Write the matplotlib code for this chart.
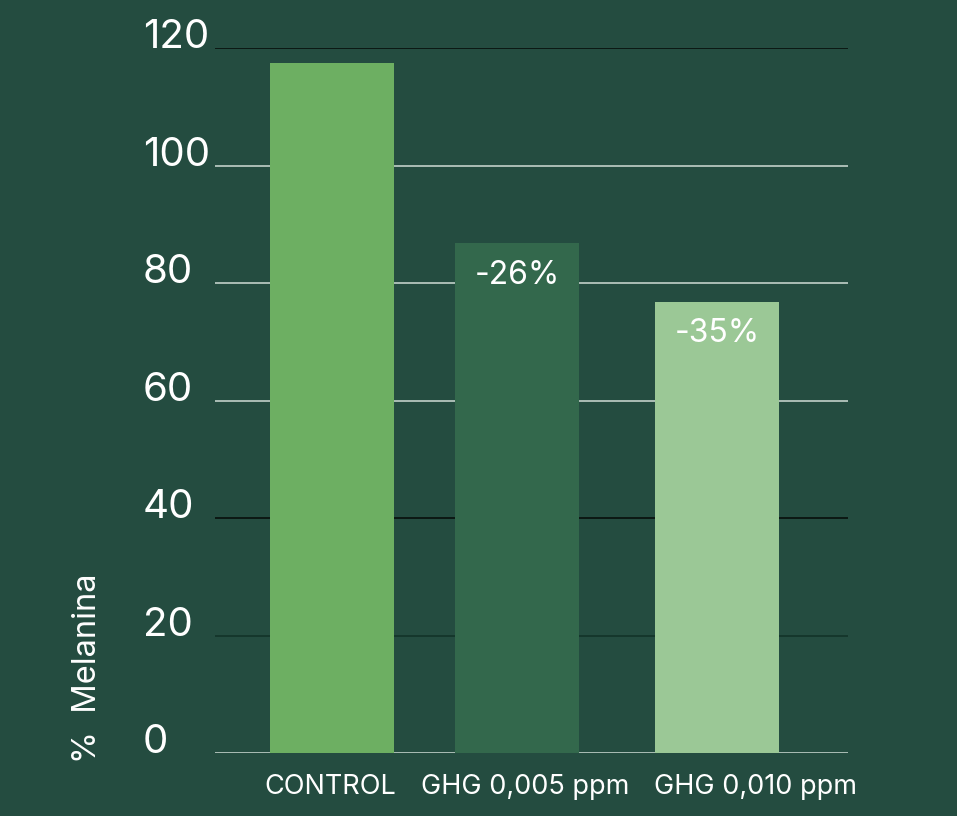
import matplotlib.pyplot as plt

plt.rcParams['font.family'] = ['Inter', 'DejaVu Sans']

categories = ['CONTROL', 'GHG 0,005 ppm', 'GHG 0,010 ppm']
melanina = [117.4, 86.8, 76.8]
changes = ['', '-26%', '-35%']
yticks = [0, 20, 40, 60, 80, 100, 120]

# layout: bar centres and label centres are not evenly spaced in the original
bar_pos = [0.0, 0.96, 2.0]
label_pos = [-0.01, 1.0, 2.2]

bg = '#244c40'
bar_colors = ['#6daf62', '#33684c', '#9bc896']
grid_colors = ['#c2d1c9', '#123328', '#080f0c', '#c2d1c9', '#c2d1c9', '#c2d1c9', '#080f0c']

fig = plt.figure(figsize=(9.57, 8.16), dpi=100, facecolor=bg)
ax = fig.add_axes([215/957, 1 - 753/816, 633/957, 705/816])
ax.set_facecolor(bg)

for yv, c in zip(yticks, grid_colors):
    ax.axhline(yv, color=c, lw=1.2, zorder=1)

ax.bar(bar_pos, melanina, width=0.645, color=bar_colors, zorder=2)

for xi, v, t in zip(bar_pos, melanina, changes):
    if t:
        ax.text(xi, v - 2.8, t, ha='center', va='top', color='white',
                fontsize=23, zorder=3)

ax.set_xlim(-0.61, 2.68)
ax.set_ylim(0, 120)
ax.set_yticks(yticks)
ax.set_yticklabels([str(t) for t in yticks], fontsize=29, color='white',
                   ha='left', va='baseline')
ax.tick_params(axis='y', length=0, pad=0)
# left-aligned labels starting at a fixed x
for lab in ax.get_yticklabels():
    lab.set_x(-(215 - 143) / 633)

ax.set_xticks(label_pos)
ax.set_xticklabels(categories, fontsize=19.5, color='white')
ax.tick_params(axis='x', length=0, pad=15)
for s in ax.spines.values():
    s.set_visible(False)

fig.text(88/957, 1 - 668/816, '%  Melanina', rotation=90, ha='center',
         va='center', color='white', fontsize=23.5)

fig.savefig('out.png', dpi=100, facecolor=bg)
